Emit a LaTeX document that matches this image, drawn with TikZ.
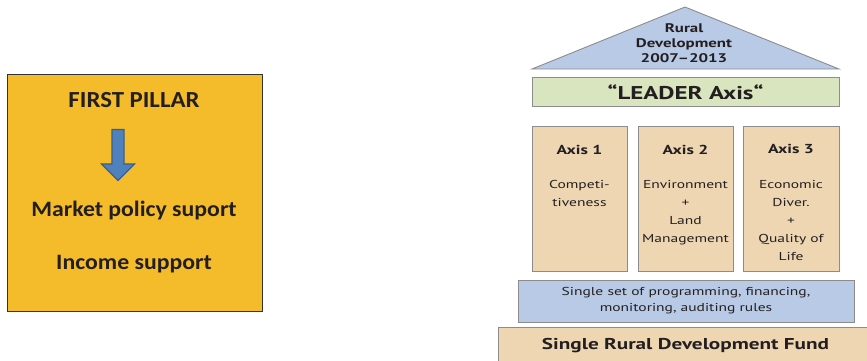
\documentclass[tikz,border=0pt]{standalone}
\usepackage{fontspec}
\setmainfont{Carlito}[FakeStretch=1.08]
\newfontfamily\rdfont{PT Sans}[FakeStretch=1.35]
\usetikzlibrary{shapes.arrows}
\definecolor{pillar}{HTML}{F4BB2A}
\definecolor{arrowblue}{HTML}{4F81BD}
\definecolor{arrowedge}{HTML}{3A5F8F}
\definecolor{roofblue}{HTML}{B9CAE6}
\definecolor{leadergreen}{HTML}{D8E5BE}
\definecolor{tan}{HTML}{EED6B2}
\definecolor{txt}{HTML}{231F20}
\definecolor{edge}{HTML}{8C8C8C}
\tikzset{
  box/.style={draw=edge, line width=0.9pt},
  ptext/.style={font=\bfseries\fontsize{22}{26}\selectfont, text=txt},
  axtitle/.style={font=\rdfont\bfseries\fontsize{13}{16}\selectfont, text=txt},
  axt/.style={font=\rdfont\fontsize{11.5}{18}\selectfont, text=txt, align=center, anchor=north},
}
\begin{document}
\begin{tikzpicture}[x=1pt,y=-1pt]
\useasboundingbox (0,0) rectangle (867,360);
\clip (0,0) rectangle (867,360);
% left pillar
\draw[draw=black!80, line width=1pt, fill=pillar] (7,74) rectangle (262,311);
\node[ptext, font=\bfseries\fontsize{23}{27}\selectfont] (fp) at (134,100) {FIRST PILLAR};
\node[single arrow, shape border rotate=270, fill=arrowblue, draw=arrowedge, line width=1.2pt,
      minimum width=33pt, single arrow head extend=10pt, single arrow tip angle=90,
      minimum height=51pt, inner sep=5pt] (arr) at (118,152) {};
\node[ptext] (mps) at (134,211) {Market policy suport};
\node[ptext] (inc) at (134,264) {Income support};
% roof
\draw[draw=edge, line width=0.9pt, fill=roofblue] (532,69) -- (685,7) -- (839,69) -- cycle;
\node[font=\rdfont\bfseries\fontsize{12.5}{15}\selectfont, text=txt, align=center] (roof) at (684,43) {Rural\\Development\\2007–2013};
% leader
\draw[box, fill=leadergreen] (532,77) rectangle (839,106);
\node[font=\rdfont\bfseries\fontsize{18.5}{22}\selectfont, text=txt] (lead) at (685.5,92) {“LEADER Axis“};
% axes
\draw[box, fill=tan] (532,126) rectangle (627,271);
\draw[box, fill=tan] (638,126) rectangle (733,271);
\draw[box, fill=tan] (743,126) rectangle (839,271);
\node[axtitle] (a1) at (579.5,150) {Axis 1};
\node[axtitle] (a2) at (685.5,150) {Axis 2};
\node[axtitle] (a3) at (791,149) {Axis 3};
\node[axt] (b1) at (579.5,177) {Competi-\\tiveness};
\node[axt] (b2) at (685.5,177) {Environment\\+\\Land\\Management};
\node[axt] (b3) at (791,177) {Economic\\Diver.\\+\\Quality of\\Life};
% rules
\draw[box, fill=roofblue] (518,280) rectangle (854,322);
\node[font=\rdfont\fontsize{11.5}{16}\selectfont, text=txt, align=center] (rules) at (686,301) {Single set of programming, financing,\\monitoring, auditing rules};
% fund
\draw[box, fill=tan] (498,327) rectangle (880,375);
\node[font=\rdfont\bfseries\fontsize{15.7}{19}\selectfont, text=txt] (fund) at (685.5,346) {Single Rural Development Fund};
\end{tikzpicture}
\end{document}
